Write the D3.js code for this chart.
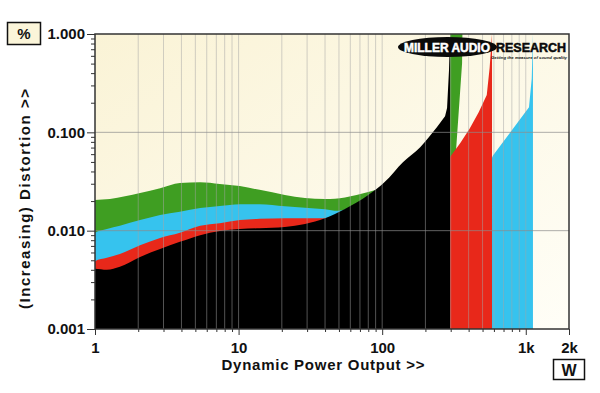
<!DOCTYPE html>
<html><head><meta charset="utf-8">
<script src="https://cdn.jsdelivr.net/npm/d3@7"></script>
<style>
body{margin:0;background:#fff}
svg{display:block}
text{font-family:"Liberation Sans",Arial,Helvetica,sans-serif;font-weight:bold}
</style>
</head><body>
<svg id="c" width="600" height="393"></svg>
<script>
// ---- tick labels ----
const xTickValues = [1, 10, 100, 1000, 2000];
const xTickLabels = ["1", "10", "100", "1k", "2k"];
const yTickValues = [1, 0.1, 0.01, 0.001];
const yTickLabels = ["1.000", "0.100", "0.010", "0.001"];

// ---- series (power in W, distortion in %) ----
const greenW   = [1, 1.27, 2.06, 2.84, 3.9, 5.4, 7.4, 10.2, 14, 21, 29, 40, 55, 80, 120, 200, 260, 290, 296, 298, 362, 360, 326];
const greenPct = [0.0205, 0.021, 0.0241, 0.027, 0.0305, 0.031, 0.0298, 0.0284, 0.026, 0.0231, 0.0215, 0.021, 0.0218, 0.0247, 0.030, 0.05, 0.08, 0.15, 0.4, 1.0, 1.0, 0.5, 0.062];

const cyanW   = [1, 1.21, 1.49, 2.06, 2.84, 3.9, 5.4, 7.4, 10.2, 14, 21, 29, 40, 49, 70, 100, 200, 297, 400, 582, 591, 800, 1053, 1100, 1122];
const cyanPct = [0.0095, 0.0104, 0.0112, 0.0128, 0.0144, 0.0156, 0.0170, 0.0178, 0.0186, 0.0186, 0.0177, 0.0171, 0.0165, 0.0159, 0.019, 0.022, 0.030, 0.036, 0.043, 0.055, 0.058, 0.105, 0.18, 0.35, 1.0];

const redW   = [1, 1.21, 1.49, 2.06, 2.84, 3.9, 5.4, 7.4, 10.2, 14, 21, 29, 40, 60, 100, 150, 200, 250, 297, 350, 408, 470, 535, 560, 582];
const redPct = [0.0049, 0.0053, 0.0058, 0.0071, 0.0084, 0.0095, 0.0112, 0.0119, 0.0128, 0.0132, 0.0134, 0.0134, 0.0134, 0.0160, 0.022, 0.031, 0.040, 0.049, 0.056, 0.078, 0.11, 0.16, 0.24, 0.45, 1.0];

const blackW   = [1, 1.21, 1.49, 2.06, 2.84, 3.9, 5.4, 7.4, 10.2, 14, 21, 29, 40, 55, 80, 104, 140, 184, 241, 274, 283, 292, 297];
const blackPct = [0.0041, 0.0040, 0.0043, 0.0054, 0.0065, 0.0077, 0.0090, 0.0099, 0.0104, 0.0106, 0.0109, 0.0117, 0.0134, 0.0166, 0.0230, 0.0312, 0.0500, 0.0707, 0.113, 0.146, 0.177, 0.43, 1.0];

const seriesColors = ["#3f9e22", "#36c3ee", "#e8281a", "#000000"];

// ---- layout ----
const L = 95, R = 569, T = 34, B = 329;
const svg = d3.select("#c");
const x = d3.scaleLog().domain([1, 2000]).range([L, R]);
const y = d3.scaleLog().domain([0.001, 1]).range([B, T]);

const defs = svg.append("defs");
const grad = defs.append("linearGradient").attr("id", "bg").attr("x1", 0).attr("y1", 0).attr("x2", 1).attr("y2", 1);
grad.append("stop").attr("offset", "0%").attr("stop-color", "#faf3d6");
grad.append("stop").attr("offset", "100%").attr("stop-color", "#fffef7");
defs.append("clipPath").attr("id", "clip").append("rect").attr("x", L).attr("y", T).attr("width", R - L).attr("height", B - T);

svg.append("rect").attr("x", L).attr("y", T).attr("width", R - L).attr("height", B - T).attr("fill", "url(#bg)");

// ---- areas ----
const smooth = d3.line().x(d => x(d[0])).y(d => y(d[1])).curve(d3.curveMonotoneX);
const straight = d3.line().x(d => x(d[0])).y(d => y(d[1]));
const series = [[greenW, greenPct], [cyanW, cyanPct], [redW, redPct], [blackW, blackPct]];
const g = svg.append("g").attr("clip-path", "url(#clip)");
series.forEach(([ws, ps], i) => {
  const pts = ws.map((w, j) => [w, ps[j]]);
  // smooth in the low-power region, straight segments through the clipping region
  let k = 1;
  while (k < pts.length && pts[k][0] > pts[k - 1][0] && pts[k][0] <= 250) k++;
  const head = [[ws[0], 0.001], ...pts.slice(0, k)];
  let d = smooth(head);
  const tail = pts.slice(k - 1).concat([[ws[ws.length - 1], 0.001]]);
  d += straight(tail).replace(/^M/, "L");
  g.append("path").attr("d", d + "Z").attr("fill", seriesColors[i]);
});

// ---- grid (drawn over areas, semi-transparent) ----
const minorX = [];
[1, 10, 100].forEach(d => { for (let k = 2; k <= 9; k++) minorX.push(d * k); });
const gridX = minorX.concat([10, 100, 1000]);
const gridG = svg.append("g");
gridX.forEach(v => gridG.append("line").attr("x1", x(v)).attr("x2", x(v)).attr("y1", T).attr("y2", B)
  .attr("stroke", "rgba(165,165,165,0.5)").attr("stroke-width", 1));
[0.1, 0.01].forEach(v => gridG.append("line").attr("x1", L).attr("x2", R).attr("y1", y(v)).attr("y2", y(v))
  .attr("stroke", "rgba(140,140,140,0.7)").attr("stroke-width", 1));

// ---- border ----
svg.append("rect").attr("x", L).attr("y", T).attr("width", R - L).attr("height", B - T)
  .attr("fill", "none").attr("stroke", "#333").attr("stroke-width", 1.5);

// ---- axes ----
const yMinor = [];
[0.001, 0.01, 0.1].forEach(d => { for (let k = 2; k <= 9; k++) yMinor.push(d * k); });
const yAxisMinor = d3.axisLeft(y).tickValues(yMinor).tickSize(4).tickFormat("");
const yAxisMajor = d3.axisLeft(y).tickValues(yTickValues).tickSize(8).tickPadding(2)
  .tickFormat((d, i) => yTickLabels[i]);
const ya1 = svg.append("g").attr("transform", `translate(${L},0)`).call(yAxisMinor);
const ya2 = svg.append("g").attr("transform", `translate(${L},0)`).call(yAxisMajor);
const xAxisMinor = d3.axisBottom(x).tickValues(minorX).tickSize(3).tickFormat("");
const xAxisMajor = d3.axisBottom(x).tickValues(xTickValues).tickSize(6).tickPadding(4)
  .tickFormat((d, i) => xTickLabels[i]);
const xa1 = svg.append("g").attr("transform", `translate(0,${B})`).call(xAxisMinor);
const xa2 = svg.append("g").attr("transform", `translate(0,${B})`).call(xAxisMajor);
[ya1, ya2, xa1, xa2].forEach(a => {
  a.select(".domain").remove();
  a.selectAll(".tick line").attr("stroke", "#333").attr("stroke-width", 1);
  a.selectAll("text").attr("fill", "#111").style("font-family", "'Liberation Sans',Arial,sans-serif").style("font-weight", "bold");
});
ya2.selectAll("text").style("font-size", "15px");
xa2.selectAll("text").style("font-size", "15px").attr("dy", "0.9em");

// ---- axis titles ----
svg.append("text").attr("x", 323).attr("y", 370).attr("text-anchor", "middle")
  .style("font-size", "15px").attr("textLength", 203).attr("fill", "#111").text("Dynamic Power Output >>");
svg.append("text").attr("transform", "translate(30,199) rotate(-90)").attr("text-anchor", "middle")
  .style("font-size", "15px").attr("textLength", 220).attr("fill", "#111").text("(Increasing) Distortion >>");

// ---- unit boxes ----
svg.append("rect").attr("x", 7.5).attr("y", 22.5).attr("width", 33).attr("height", 22)
  .attr("fill", "#fbf5d9").attr("stroke", "#111").attr("stroke-width", 1.5);
svg.append("text").attr("x", 24).attr("y", 39).attr("text-anchor", "middle").style("font-size", "15px").attr("fill", "#111").text("%");
svg.append("rect").attr("x", 553.5).attr("y", 359.5).attr("width", 31).attr("height", 20)
  .attr("fill", "#fff").attr("stroke", "#111").attr("stroke-width", 1.5);
svg.append("text").attr("x", 569).attr("y", 375.5).attr("text-anchor", "middle").style("font-size", "16px").attr("fill", "#111").text("W");

// ---- logo ----
svg.append("ellipse").attr("cx", 447.5).attr("cy", 47).attr("rx", 49.5).attr("ry", 10).attr("fill", "#0a0a0a");
svg.append("text").attr("x", 404).attr("y", 52).attr("textLength", 86).attr("lengthAdjust", "spacingAndGlyphs")
  .style("font-size", "12px")
  .attr("fill", "#fff").attr("stroke", "#fff").attr("stroke-width", 0.5).text("MILLER AUDIO");
svg.append("text").attr("x", 496).attr("y", 52).attr("textLength", 70).attr("lengthAdjust", "spacingAndGlyphs")
  .style("font-size", "12.5px")
  .attr("fill", "#0a0a0a").attr("stroke", "#0a0a0a").attr("stroke-width", 0.5).text("RESEARCH");
svg.append("text").attr("x", 491).attr("y", 58.5).attr("textLength", 76).attr("lengthAdjust", "spacingAndGlyphs")
  .style("font-size", "4.2px").style("font-style", "italic").attr("fill", "#111").text("Getting the measure of sound quality");
</script>
</body></html>
